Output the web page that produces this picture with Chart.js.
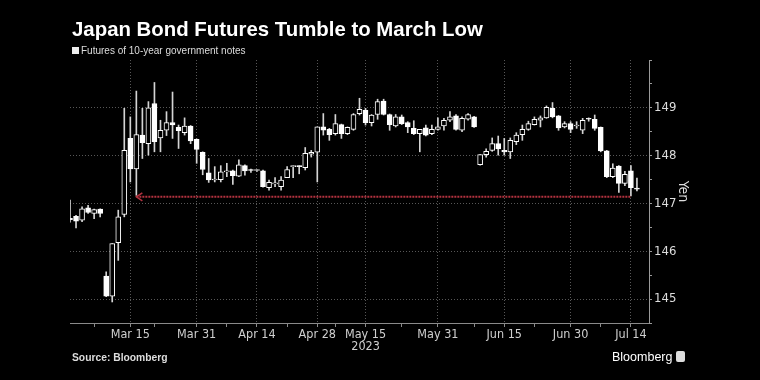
<!DOCTYPE html>
<html>
<head>
<meta charset="utf-8">
<script src="https://cdn.jsdelivr.net/npm/chart.js@4.4.0/dist/chart.umd.min.js"></script>
<style>
body{margin:0;background:#000;}
#wrap{position:relative;width:760px;height:380px;background:#000;overflow:hidden;font-family:"Liberation Sans",Arial,sans-serif;}
#title{position:absolute;left:72px;top:19px;font-size:20.4px;line-height:20px;font-weight:bold;color:#fff;white-space:nowrap;}
#sub{position:absolute;left:72px;top:45px;font-size:10px;line-height:12px;color:#ddd;white-space:nowrap;}
#sub span{display:inline-block;width:7px;height:7px;background:#eee;margin-right:2px;}
#source{position:absolute;left:72px;top:352px;font-size:10.3px;line-height:12px;font-weight:bold;color:#ddd;}
#logo{position:absolute;left:612px;top:350px;font-size:12.5px;line-height:14px;color:#fff;white-space:nowrap;}
#logo span{display:inline-block;width:9px;height:11px;background:#ddd;border-radius:2px;margin-left:4px;vertical-align:-1px;}
canvas{position:absolute;left:0;top:0;}
</style>
</head>
<body>
<div id="wrap">
<canvas id="bondChart" width="760" height="380"></canvas>
<div id="title">Japan Bond Futures Tumble to March Low</div>
<div id="sub"><span></span>Futures of 10-year government notes</div>
<div id="source">Source: Bloomberg</div>
<div id="logo">Bloomberg<span></span></div>
</div>
<script>

/* Data (trading days, Mar 1 - Jul 18 2023) */

const dates = [
"Mar 1","Mar 2","Mar 3","Mar 6","Mar 7","Mar 8","Mar 9","Mar 10","Mar 13","Mar 14",
"Mar 15","Mar 16","Mar 17","Mar 20","Mar 22","Mar 23","Mar 24","Mar 27","Mar 28","Mar 29",
"Mar 30","Mar 31","Apr 3","Apr 4","Apr 5","Apr 6","Apr 7","Apr 10","Apr 11","Apr 12",
"Apr 13","Apr 14","Apr 17","Apr 18","Apr 19","Apr 20","Apr 21","Apr 24","Apr 25","Apr 26",
"Apr 27","Apr 28","May 1","May 2","May 8","May 9","May 10","May 11","May 12","May 15",
"May 16","May 17","May 18","May 19","May 22","May 23","May 24","May 25","May 26","May 29",
"May 30","May 31","Jun 1","Jun 2","Jun 5","Jun 6","Jun 7","Jun 8","Jun 9","Jun 12",
"Jun 13","Jun 14","Jun 15","Jun 16","Jun 19","Jun 20","Jun 21","Jun 22","Jun 23","Jun 26",
"Jun 27","Jun 28","Jun 29","Jun 30","Jul 3","Jul 4","Jul 5","Jul 6","Jul 7","Jul 10",
"Jul 11","Jul 12","Jul 13","Jul 14","Jul 18"
];

const opens = [
146.69,146.73,146.65,146.91,146.79,146.88,145.48,145.06,146.18,146.77,
148.36,147.72,148.43,148.25,149.09,148.37,148.53,148.69,148.59,148.48,
148.62,148.34,148.07,147.64,147.49,147.50,147.66,147.68,147.57,147.79,
147.70,147.69,147.68,147.33,147.41,147.35,147.54,147.77,147.78,147.75,
148.03,148.07,148.60,148.55,148.46,148.65,148.46,148.55,148.88,148.95,
148.69,148.86,149.14,148.86,148.62,148.81,148.69,148.57,148.46,148.58,
148.46,148.55,148.62,148.74,148.83,148.53,148.76,148.81,147.81,148.02,
148.11,148.25,148.11,148.08,148.29,148.44,148.55,148.65,148.74,148.79,
148.99,148.83,148.60,148.67,148.62,148.53,148.77,148.76,148.59,148.10,
147.56,147.78,147.42,147.68,147.32
];

const highs = [
147.07,146.75,146.93,146.96,146.88,146.89,145.57,146.16,146.86,148.99,
148.81,149.35,148.99,149.13,149.53,148.74,148.92,149.33,148.64,148.79,
148.63,148.35,148.08,147.94,147.77,147.79,147.84,147.70,147.91,147.81,
147.72,147.71,147.70,147.49,147.54,147.56,147.77,147.79,147.79,148.17,
148.11,148.60,148.88,148.57,148.86,148.66,148.60,148.88,149.20,148.99,
148.86,149.18,149.18,148.87,148.86,148.85,148.71,148.73,148.55,148.64,
148.64,148.79,148.78,148.92,148.86,148.81,148.88,148.82,148.02,148.14,
148.37,148.41,148.36,148.37,148.48,148.64,148.72,148.81,148.83,149.04,
149.11,148.84,148.71,148.71,148.71,148.78,148.79,148.85,148.60,148.11,
147.83,147.79,147.67,147.79,147.53
];

const lows = [
146.61,146.49,146.62,146.79,146.68,146.72,145.05,144.94,145.81,146.72,
147.45,147.17,147.94,148.01,148.08,148.08,148.42,148.36,148.15,148.43,
148.25,147.84,147.60,147.44,147.45,147.45,147.56,147.40,147.56,147.59,
147.65,147.67,147.34,147.28,147.35,147.28,147.54,147.54,147.62,147.70,
147.97,147.45,148.43,148.32,148.43,148.36,148.44,148.53,148.85,148.64,
148.62,148.76,148.85,148.53,148.60,148.65,148.48,148.44,148.08,148.41,
148.44,148.53,148.53,148.71,148.53,148.50,148.74,148.59,147.80,147.97,
148.09,148.01,148.01,147.94,148.23,148.32,148.53,148.64,148.60,148.78,
148.79,148.53,148.58,148.48,148.57,148.46,148.72,148.53,148.08,147.54,
147.54,147.23,147.37,147.16,147.26
];

const closes = [
146.66,146.63,146.89,146.81,146.87,146.79,145.06,146.16,146.72,148.11,
147.72,148.44,148.27,149.00,148.29,148.53,148.69,148.64,148.52,148.62,
148.31,148.13,147.71,147.49,147.51,147.66,147.67,147.58,147.81,147.68,
147.69,147.70,147.35,147.44,147.42,147.49,147.71,147.78,147.77,148.05,
148.07,148.60,148.53,148.44,148.67,148.46,148.59,148.86,148.97,148.69,
148.85,149.13,148.86,148.65,148.81,148.67,148.60,148.46,148.55,148.43,
148.55,148.60,148.74,148.81,148.55,148.78,148.86,148.60,148.02,148.09,
148.25,148.14,148.08,148.32,148.43,148.55,148.67,148.76,148.79,149.01,
148.81,148.58,148.67,148.55,148.64,148.74,148.76,148.57,148.10,147.56,
147.74,147.42,147.61,147.33,147.30
];

// axis labels
const tickDates = ["Mar 15","Mar 31","Apr 14","Apr 28","May 15","May 31","Jun 15","Jun 30","Jul 14"];
const minorDates = ["Mar 7","Mar 22","Apr 7","Apr 21","May 8","May 23","Jun 8","Jun 22","Jul 7"];
const yearLabel = "2023";
const yearUnder = "May 15";

// March low marker
const marchLow = 147.14;
const lowFrom = "Mar 16";
const lowTo = "Jul 14";


/* Build datasets */

const labels = dates.concat(["",""]);   // two empty slots on the right

const bodies = dates.map((d,i)=>[opens[i], closes[i]]);
const wicks = dates.map((d,i)=>[lows[i], highs[i]]);
const bodyFill = dates.map((d,i)=> closes[i] >= opens[i] ? "#000" : "#fff");

const lowLine = labels.map(d => (d === lowFrom || d === lowTo) ? marchLow : null);

const tickIdx = tickDates.map(d => dates.indexOf(d));
const minorIdx = minorDates.map(d => dates.indexOf(d));

const tickFont = {family:"'Liberation Sans Narrow','Arial Narrow','DejaVu Sans Condensed','Liberation Sans',sans-serif", size:12.5, lineHeight:1};


/* Arrow head on the red line */

const arrowHead = {
id: "arrowHead",
afterDatasetsDraw(chart){
const meta = chart.getDatasetMeta(2);
const p = meta.data[labels.indexOf(lowFrom)];
if(!p) return;
const c = chart.ctx;
c.save();
c.strokeStyle = "#b3323f";
c.lineWidth = 1.5;
c.beginPath();
c.moveTo(p.x + 6, p.y - 4);
c.lineTo(p.x, p.y);
c.lineTo(p.x + 6, p.y + 4);
c.stroke();
c.restore();
}
};


/* Chart Setup */

const ctx = document.getElementById("bondChart").getContext("2d");

const chart = new Chart(ctx, {
type: "bar",
data: {
labels: labels,
datasets: [
{
label: "body",
data: bodies,
backgroundColor: bodyFill,
borderColor: "#fff",
borderWidth: 1,
borderSkipped: false,
barThickness: 5,
minBarLength: 1,
grouped: false,
order: 1
},
{
label: "wick",
data: wicks,
backgroundColor: "#d4d4d4",
borderWidth: 0,
barThickness: 1,
grouped: false,
order: 2
},
{
type: "line",
label: "March low",
data: lowLine,
borderColor: "#b3323f",
borderWidth: 2,
borderDash: [2,1],
pointRadius: 0,
spanGaps: true,
fill: false,
order: 0
}
]
},
options: {
responsive: false,
animation: false,
layout: {padding: {left:70, right:61, top:60, bottom:21}},
plugins: {legend:{display:false}, tooltip:{enabled:false}},
scales: {
x: {
offset: false,
grid: {
offset: false,
color: c => tickIdx.includes(c.index) ? "rgba(255,255,255,0.34)" : "rgba(0,0,0,0)",
tickColor: c => (tickIdx.includes(c.index) || minorIdx.includes(c.index)) ? "#8a8a8a" : "rgba(0,0,0,0)",
tickLength: 4
},
border: {color:"#8a8a8a", width:1, dash:[1,2]},
ticks: {
autoSkip: false,
maxRotation: 0,
padding: 1,
color: "#cfcfcf",
font: tickFont,
callback: (v,i) => {
if(!tickIdx.includes(i)) return "";
return dates[i] === yearUnder ? [dates[i], yearLabel] : dates[i];
}
},
afterFit: s => { s.height = 36; }
},
y: {
position: "right",
min: 144.5,
max: 150,
grid: {
color: c => (Number.isInteger(c.tick.value) && c.tick.value < 150) ? "rgba(255,255,255,0.34)" : "rgba(0,0,0,0)",
tickColor: "#9a9a9a",
tickLength: 3
},
border: {color:"#9a9a9a", width:1, dash:[1,2]},
ticks: {
stepSize: 0.5,
padding: 2,
color: "#dddddd",
font: {family: tickFont.family, size:13},
callback: v => (Number.isInteger(v) && v < 150) ? v : ""
},
title: {display:true, text:"Yen", color:"#dddddd", font:{family: tickFont.family, size:14}, padding:{top:8, bottom:0}},
afterFit: s => { s.width = 50; }
}
}
},
plugins: [arrowHead]
});

</script>
</body>
</html>
